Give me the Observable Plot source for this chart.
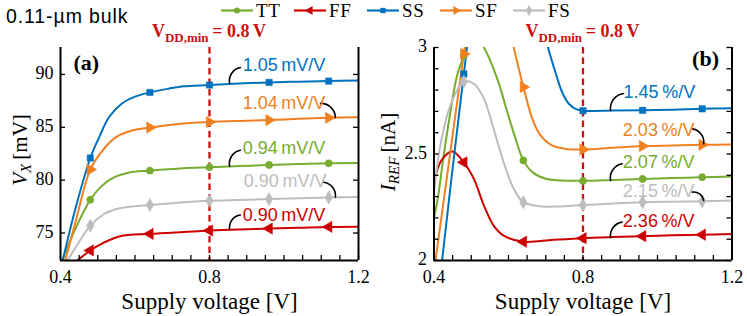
<!DOCTYPE html>
<html><head><meta charset="utf-8">
<script src="https://cdn.jsdelivr.net/npm/d3@7"></script>
<script src="https://cdn.jsdelivr.net/npm/@observablehq/plot@0.6"></script>
<style>
body{margin:0;background:#fff;}
#wrap{position:relative;width:747px;height:316px;overflow:hidden;background:#fff;}
#title{position:absolute;left:6px;top:6px;font-family:Liberation Sans, Arimo, Arial, sans-serif;font-size:19.5px;line-height:20px;letter-spacing:0.9px;color:#000;white-space:nowrap;}
#legend{position:absolute;left:0;top:0;}
.panel{position:absolute;top:0;}
</style></head>
<body><div id="wrap"><div id="title">0.11-µm bulk</div></div>
<script>
// ---------- data ----------
const corners = ["TT", "FF", "SS", "SF", "FS"];
const colors = ["#77AC30", "#CC0000", "#0072BD", "#F08020", "#BDBDBD"];
const vddMin = 0.8;
const vddLabel = ["V", "DD,min", "\u2009= 0.8\u2009V"];
const xLabel = "Supply voltage [V]";
const xMajor = [0.4, 0.8, 1.2];
const xMinor = [0.4, 0.45, 0.5, 0.55, 0.6, 0.65, 0.7, 0.75, 0.8, 0.85, 0.9, 0.95, 1.0, 1.05, 1.1, 1.15, 1.2];
const markerX = [0.48, 0.64, 0.8, 0.96, 1.12];
const yTicksA = [75, 80, 85, 90];
const yTicksB = [2, 2.1, 2.2, 2.3, 2.4, 2.5, 2.6, 2.7, 2.8, 2.9, 3];
const yLabelsB = [2, 2.5, 3];

// (a) V_X [mV] vs supply voltage
const vxTT = [[0.40,72.0],[0.44,75.4],[0.48,78.15],[0.505,79.25],[0.54,80.2],[0.585,80.72],[0.64,80.9],[0.73,81.13],[0.80,81.22],[0.88,81.33],[0.96,81.44],[1.04,81.52],[1.12,81.6],[1.2,81.62]];
const vxFF = [[0.42,71.65],[0.48,73.35],[0.515,74.07],[0.56,74.7],[0.64,74.92],[0.73,75.1],[0.80,75.23],[0.88,75.33],[0.96,75.42],[1.04,75.5],[1.12,75.58],[1.2,75.6]];
const vxSS = [[0.40,71.5],[0.44,77.3],[0.48,82.1],[0.505,84.15],[0.53,85.95],[0.565,87.25],[0.60,87.9],[0.64,88.3],[0.69,88.65],[0.73,88.88],[0.80,89.0],[0.88,89.15],[0.96,89.25],[1.04,89.32],[1.12,89.37],[1.2,89.43]];
const vxSF = [[0.40,70.7],[0.44,76.0],[0.48,81.0],[0.515,82.9],[0.55,84.1],[0.595,84.73],[0.64,84.98],[0.73,85.36],[0.80,85.5],[0.88,85.6],[0.96,85.68],[1.04,85.8],[1.12,85.9],[1.2,85.95]];
const vxFS = [[0.40,71.3],[0.44,73.6],[0.48,75.7],[0.515,76.75],[0.55,77.27],[0.595,77.52],[0.64,77.65],[0.73,77.9],[0.80,78.05],[0.88,78.13],[0.96,78.21],[1.04,78.3],[1.12,78.36],[1.2,78.4]];

// (b) I_REF [nA] vs supply voltage
const irTT = [[0.40,2.2],[0.41,2.29],[0.426,2.493],[0.444,2.696],[0.462,2.869],[0.48,2.96],[0.505,3.07],[0.534,3.0],[0.57,2.853],[0.597,2.696],[0.619,2.571],[0.64,2.47],[0.664,2.415],[0.70,2.384],[0.80,2.374],[0.88,2.378],[0.96,2.383],[1.04,2.387],[1.12,2.391],[1.2,2.394]];
const irFF = [[0.40,2.37],[0.42,2.47],[0.449,2.512],[0.48,2.461],[0.507,2.383],[0.534,2.258],[0.56,2.164],[0.587,2.117],[0.64,2.088],[0.72,2.097],[0.80,2.105],[0.88,2.11],[0.96,2.114],[1.04,2.118],[1.12,2.121],[1.2,2.125]];
const irSS = [[0.41,1.82],[0.48,2.876],[0.50,3.13],[0.55,3.5],[0.62,3.5],[0.68,3.18],[0.706,3.0],[0.726,2.884],[0.744,2.79],[0.762,2.736],[0.78,2.712],[0.80,2.703],[0.88,2.704],[0.96,2.705],[1.04,2.708],[1.12,2.712],[1.2,2.715]];
const irSF = [[0.40,1.95],[0.44,2.46],[0.48,2.97],[0.50,3.2],[0.55,3.4],[0.59,3.18],[0.619,2.962],[0.64,2.814],[0.664,2.665],[0.686,2.587],[0.717,2.54],[0.753,2.524],[0.80,2.521],[0.88,2.529],[0.96,2.537],[1.04,2.54],[1.12,2.543],[1.2,2.545]];
const irFS = [[0.40,2.32],[0.417,2.54],[0.444,2.728],[0.48,2.84],[0.507,2.83],[0.534,2.76],[0.56,2.618],[0.587,2.461],[0.614,2.337],[0.64,2.274],[0.69,2.254],[0.80,2.26],[0.88,2.268],[0.96,2.274],[1.04,2.276],[1.12,2.278],[1.2,2.282]];

// sensitivity annotations (corner order TT, FF, SS, SF, FS)
const slopeTextA = ["0.94\u2009mV/V", "0.90\u2009mV/V", "1.05\u2009mV/V", "1.04\u2009mV/V", "0.90\u2009mV/V"];
const slopeTextB = ["2.07\u2009%/V", "2.36\u2009%/V", "1.45\u2009%/V", "2.03\u2009%/V", "2.15\u2009%/V"];
const labelAtA = [[0.889,83.0],[0.889,76.7],[0.889,90.85],[0.889,87.26],[0.892,79.86]];
const labelAtB = [[0.907,2.462],[0.907,2.185],[0.909,2.791],[0.907,2.613],[0.907,2.326]];
const leaderA = [[0.883,82.83,0.854,81.32],[0.883,76.7,0.854,75.38],[0.883,90.66,0.854,89.15],[1.098,87.26,1.138,85.94],[1.106,79.81,1.138,78.4]];
const leaderB = [[0.905,2.454,0.874,2.376],[0.905,2.18,0.874,2.107],[0.909,2.784,0.874,2.704],[1.093,2.618,1.124,2.548],[1.093,2.321,1.124,2.282]];
const rightEnd = [false, false, false, true, true]; // label text ends where the leader starts

// ---------- style ----------
const serif = "Liberation Serif, Tinos, Times New Roman, DejaVu Serif, serif";
const sans = "Liberation Sans, Arimo, Arial, sans-serif";
const vddColor = "#CC1010";
const symbols = ["circle", "triangle", "square", "triangle", "diamond"];
const rotations = [0, -90, 0, 90, 0];
const sizes = [3.6, 4.2, 3.6, 4.2, 4.0];
const W = 373, H = 316, MT = 47, MB = 56;

function panel(opt) {
  const pw = W - opt.ml - opt.mr, ph = H - MT - MB;
  const marks = [];
  opt.series.forEach((s, i) => {
    marks.push(Plot.line(s, {x: d => d[0], y: d => d[1], stroke: colors[i], strokeWidth: 2, curve: "catmull-rom", clip: true}));
  });
  marks.push(Plot.ruleX([vddMin], {stroke: vddColor, strokeWidth: 2.3, strokeDasharray: "6.5,4"}));
  opt.series.forEach((s, i) => {
    const pts = s.filter(d => markerX.includes(d[0]) && d[1] <= opt.yDomain[1] && d[1] >= opt.yDomain[0]);
    marks.push(Plot.dot(pts, {x: d => d[0], y: d => d[1], symbol: symbols[i], fill: colors[i], stroke: colors[i], strokeWidth: 0.5, r: sizes[i], rotate: rotations[i]}));
  });
  // leaders
  const leaders = opt.leaders.map((l, i) => ({x1: l[0], y1: l[1], x2: l[2], y2: l[3], right: rightEnd[i]}));
  marks.push(Plot.arrow(leaders.filter(d => !d.right), {x1: "x1", y1: "y1", x2: "x2", y2: "y2", bend: -45, headLength: 0, stroke: "black", strokeWidth: 1.6}));
  marks.push(Plot.arrow(leaders.filter(d => d.right), {x1: "x1", y1: "y1", x2: "x2", y2: "y2", bend: 45, headLength: 0, stroke: "black", strokeWidth: 1.6}));
  // labels
  const labels = opt.labelAt.map((p, i) => ({x: p[0], y: p[1], t: opt.labels[i], c: colors[i]}));
  marks.push(Plot.text(labels, {x: "x", y: "y", text: "t", fill: d => d.c, textAnchor: "start", fontFamily: sans, fontSize: 18}));
  // frame (left, right, bottom)
  marks.push(Plot.ruleX([0.4, 1.2], {stroke: "black", strokeWidth: 2}));
  marks.push(Plot.ruleY([opt.yDomain[0]], {stroke: "black", strokeWidth: 2}));
  // inward ticks
  marks.push(Plot.tickX(xMinor, {x: d => d, insetTop: ph - 5, stroke: "black", strokeWidth: 1.3}));
  marks.push(Plot.tickY(opt.yTicks, {y: d => d, insetRight: pw - 5, stroke: "black", strokeWidth: 1.3}));
  marks.push(Plot.tickY(opt.yTicks, {y: d => d, insetLeft: pw - 5, stroke: "black", strokeWidth: 1.3}));
  marks.push(Plot.axisX({ticks: xMajor, tickSize: 0, tickPadding: 10, tickFormat: d => d.toFixed(1), label: null, fontFamily: serif, fontSize: 18}));
  marks.push(Plot.axisY({ticks: opt.yLabels, tickSize: 0, tickPadding: 7, dy: -1, tickFormat: d => String(d), label: null, fontFamily: serif, fontSize: 18}));
  marks.push(Plot.text([xLabel], {frameAnchor: "bottom", lineAnchor: "middle", dy: 41, fontFamily: serif, fontSize: 23, fill: "black"}));
  marks.push(Plot.text([opt.tag], {frameAnchor: opt.tagAnchor, lineAnchor: "middle", dx: opt.tagDx, dy: opt.tagDy, textAnchor: opt.tagAnchor === "top-left" ? "start" : "end", fontFamily: serif, fontWeight: "bold", fontSize: 22, fill: "black"}));

  const svg = Plot.plot({
    width: W, height: H,
    marginLeft: opt.ml, marginRight: opt.mr, marginTop: MT, marginBottom: MB,
    x: {domain: [0.4, 1.2]},
    y: {domain: opt.yDomain},
    style: {fontFamily: serif, fontSize: "18px", color: "black", background: "transparent", overflow: "visible"},
    marks
  });
  const xs = svg.scale("x");
  const g = d3.select(svg);
  // V_DD,min label
  const t = g.append("text").attr("x", xs.apply(vddMin)).attr("y", 37).attr("text-anchor", "middle")
    .attr("fill", vddColor).attr("font-family", serif).attr("font-weight", "bold").attr("font-size", 18);
  t.append("tspan").text(vddLabel[0]);
  t.append("tspan").attr("font-size", 13).attr("dy", 5).text(vddLabel[1]);
  t.append("tspan").attr("dy", -5).text(vddLabel[2]);
  // y label with subscript
  const yl = g.append("text").attr("transform", `translate(${opt.ylx},${opt.yly}) rotate(-90)`).attr("text-anchor", "middle")
    .attr("font-family", serif).attr("font-size", 21).attr("fill", "black");
  yl.append("tspan").attr("font-style", "italic").text(opt.ylab[0]);
  yl.append("tspan").attr("font-style", "italic").attr("font-size", 15).attr("dy", 4).text(opt.ylab[1]);
  yl.append("tspan").attr("dy", -4).text(opt.ylab[2]);
  svg.setAttribute("class", "panel");
  svg.style.left = opt.left + "px";
  return svg;
}

const wrap = document.getElementById("wrap");
wrap.appendChild(panel({
  left: 0, ml: 60, mr: 15, yDomain: [72.4, 92.55], yTicks: yTicksA, yLabels: yTicksA,
  series: [vxTT, vxFF, vxSS, vxSF, vxFS], labels: slopeTextA, labelAt: labelAtA, leaders: leaderA,
  tag: "(a)", tagAnchor: "top-left", tagDx: 13, tagDy: 15,
  ylab: ["V", "X", "\u2009[mV]"], ylx: 27, yly: 150
}));
wrap.appendChild(panel({
  left: 374, ml: 59.5, mr: 15.5, yDomain: [2, 3], yTicks: yTicksB, yLabels: yLabelsB,
  series: [irTT, irFF, irSS, irSF, irFS], labels: slopeTextB, labelAt: labelAtB, leaders: leaderB,
  tag: "(b)", tagAnchor: "top-right", tagDx: -13, tagDy: 11,
  ylab: ["I", "REF", "\u2009[nA]"], ylx: 395 - 374, yly: 152
}));

// legend
const leg = d3.select(wrap).append("svg").attr("id", "legend").attr("width", 747).attr("height", 24);
corners.forEach((c, i) => {
  const x0 = 221 + i * 73;
  const gg = leg.append("g");
  gg.append("line").attr("x1", x0).attr("x2", x0 + 32).attr("y1", 10.5).attr("y2", 10.5).attr("stroke", colors[i]).attr("stroke-width", 2.2);
  const sym = {circle: d3.symbolCircle, triangle: d3.symbolTriangle, square: d3.symbolSquare, diamond: d3.symbolDiamond}[symbols[i]];
  gg.append("path").attr("d", d3.symbol(sym, i === 0 || i === 2 ? 28 : 34)()).attr("fill", colors[i])
    .attr("transform", `translate(${x0 + 16},10.5) rotate(${rotations[i]})`);
  gg.append("text").attr("x", x0 + 35).attr("y", 17).attr("font-family", serif).attr("font-size", 19).attr("letter-spacing", 0.6).attr("fill", "black").text(c);
});
</script></body></html>
